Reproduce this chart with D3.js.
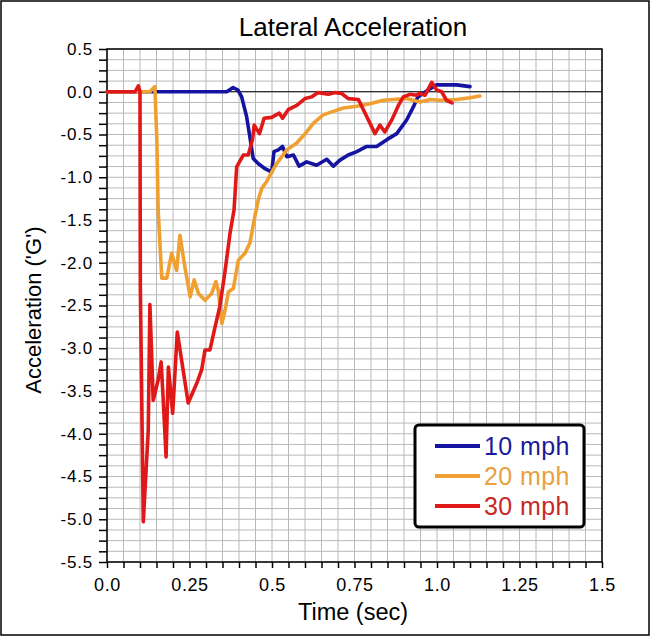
<!DOCTYPE html>
<html><head><meta charset="utf-8">
<script src="https://cdn.jsdelivr.net/npm/d3@7"></script>
<style>body{margin:0;background:#fff}svg{display:block;font-family:"Liberation Sans",Arial,sans-serif}</style>
</head><body>
<svg id="c" width="650" height="637"></svg>
<script>
const seriesNames = ["10 mph","20 mph","30 mph"];
const seriesColors = ["#1414a0","#f0a030","#e01818"];
const legendColors = ["#1a1a9a","#e8a040","#c82828"];
const xTicks = [0,0.25,0.5,0.75,1.0,1.25,1.5];
const xTickLabels = ["0.0","0.25","0.5","0.75","1.0","1.25","1.5"];
const yTicks = [0.5,0,-0.5,-1,-1.5,-2,-2.5,-3,-3.5,-4,-4.5,-5,-5.5];
const yTickLabels = ["0.5","0.0","-0.5","-1.0","-1.5","-2.0","-2.5","-3.0","-3.5","-4.0","-4.5","-5.0","-5.5"];

const t10 = [0,0.363,0.382,0.397,0.408,0.423,0.433,0.443,0.458,0.479,0.499,0.506,0.519,0.532,0.545,0.565,0.582,0.605,0.635,0.666,0.686,0.706,0.731,0.757,0.787,0.817,0.848,0.878,0.908,0.928,0.942,0.973,0.999,1.06,1.10];
const g10 = [0,0,0.05,0.02,-0.06,-0.29,-0.53,-0.78,-0.84,-0.90,-0.94,-0.70,-0.68,-0.64,-0.76,-0.74,-0.87,-0.82,-0.86,-0.79,-0.87,-0.80,-0.74,-0.70,-0.64,-0.64,-0.56,-0.49,-0.33,-0.18,-0.06,0.02,0.08,0.08,0.06];

const t20 = [0,0.13,0.145,0.151,0.155,0.166,0.181,0.196,0.211,0.221,0.236,0.252,0.264,0.277,0.297,0.317,0.330,0.337,0.348,0.358,0.368,0.383,0.398,0.418,0.433,0.448,0.458,0.469,0.484,0.499,0.514,0.545,0.575,0.605,0.625,0.655,0.686,0.716,0.757,0.797,0.837,0.868,0.908,0.948,0.979,1.009,1.06,1.10,1.13];
const g20 = [0,0,0.06,-0.56,-1.38,-2.18,-2.18,-1.89,-2.09,-1.68,-2.05,-2.40,-2.20,-2.36,-2.44,-2.36,-2.22,-2.32,-2.71,-2.55,-2.34,-2.30,-1.97,-1.89,-1.77,-1.46,-1.27,-1.13,-1.05,-0.94,-0.84,-0.68,-0.60,-0.47,-0.37,-0.27,-0.23,-0.19,-0.17,-0.14,-0.10,-0.09,-0.08,-0.12,-0.09,-0.10,-0.09,-0.07,-0.05];

const t30 = [0,0.085,0.095,0.100,0.101,0.110,0.125,0.130,0.140,0.155,0.164,0.170,0.179,0.186,0.199,0.213,0.246,0.272,0.287,0.297,0.312,0.327,0.342,0.358,0.373,0.385,0.393,0.413,0.428,0.441,0.446,0.462,0.476,0.499,0.522,0.532,0.549,0.575,0.600,0.620,0.640,0.671,0.691,0.711,0.731,0.762,0.777,0.797,0.812,0.827,0.842,0.863,0.883,0.898,0.918,0.938,0.948,0.964,0.984,0.999,1.014,1.029,1.045];
const g30 = [0,0,0.07,0,-2.28,-5.03,-3.96,-2.49,-3.61,-3.37,-3.16,-3.57,-4.27,-3.22,-3.76,-2.81,-3.64,-3.41,-3.25,-3.02,-3.02,-2.76,-2.51,-2.09,-1.65,-1.38,-0.88,-0.74,-0.74,-0.56,-0.39,-0.49,-0.31,-0.30,-0.25,-0.31,-0.21,-0.16,-0.08,-0.06,-0.01,-0.03,-0.01,-0.02,-0.08,-0.09,-0.21,-0.37,-0.49,-0.39,-0.47,-0.33,-0.16,-0.06,-0.03,-0.04,-0.02,-0.04,0.11,0.02,0,-0.10,-0.13];

const series = [[t10,g10],[t20,g20],[t30,g30]].map(([t,g],i)=>({name:seriesNames[i],color:seriesColors[i],pts:t.map((v,j)=>[v,g[j]])}));

const svg = d3.select("#c");
const L=107,R=602,T=49,B=562;
const x = d3.scaleLinear().domain([0,1.5]).range([L,R]);
const y = d3.scaleLinear().domain([-5.5,0.5]).range([B,T]);

svg.append("rect").attr("x",1).attr("y",1).attr("width",648).attr("height",634).attr("fill","#fff").attr("stroke","#000").attr("stroke-width",1.5);

// grid
const g = svg.append("g");
const xMinor = d3.range(0,31).map(i=>i*0.05);
const yMinor = d3.range(0,49).map(i=>0.5-i*0.125);
g.selectAll(".vx").data(xMinor).join("line").attr("x1",d=>x(d)).attr("x2",d=>x(d)).attr("y1",T).attr("y2",B).attr("stroke","#b8b8b8").attr("stroke-width",1);
g.selectAll(".hy").data(yMinor).join("line").attr("y1",d=>y(d)).attr("y2",d=>y(d)).attr("x1",L).attr("x2",R).attr("stroke","#b8b8b8").attr("stroke-width",1);
// zero line
svg.append("line").attr("x1",L).attr("x2",R).attr("y1",y(0)).attr("y2",y(0)).attr("stroke","#000").attr("stroke-width",1.2);
// frame
svg.append("rect").attr("x",L).attr("y",T).attr("width",R-L).attr("height",B-T).attr("fill","none").attr("stroke","#000").attr("stroke-width",1.5);

// axes
const xAxis = d3.axisBottom(x).tickValues(xMinor).tickSize(6).tickFormat(d=>{const k=xTicks.findIndex(v=>Math.abs(v-d)<1e-6);return k>=0?xTickLabels[k]:"";});
const ax = svg.append("g").attr("transform",`translate(0,${B})`).call(xAxis);
ax.select(".domain").remove();
ax.selectAll("line").attr("stroke","#000").attr("stroke-width",1.5);
ax.selectAll("text").attr("font-size",18).attr("fill","#000").attr("y",16).attr("dy","0.71em").attr("letter-spacing",0.6).attr("font-family","Liberation Sans, Arial, sans-serif");

const yAxis = d3.axisLeft(y).tickValues(yMinor).tickSize(8).tickFormat(d=>{const k=yTicks.findIndex(v=>Math.abs(v-d)<1e-6);return k>=0?yTickLabels[k]:"";});
const ay = svg.append("g").attr("transform",`translate(${L},0)`).call(yAxis);
ay.select(".domain").remove();
ay.selectAll("line").attr("stroke","#000").attr("stroke-width",1.5);
ay.selectAll("text").attr("font-size",17).attr("fill","#000").attr("x",-14).attr("letter-spacing",0.8).attr("font-family","Liberation Sans, Arial, sans-serif");

// lines
const line = d3.line().x(d=>x(d[0])).y(d=>y(d[1]));
svg.append("g").selectAll("path").data(series).join("path")
  .attr("d",d=>line(d.pts)).attr("fill","none").attr("stroke",d=>d.color)
  .attr("stroke-width",3.6).attr("stroke-linejoin","round").attr("stroke-linecap","round");

// titles
svg.append("text").attr("x",353).attr("y",36).attr("text-anchor","middle").attr("font-size",26).text("Lateral Acceleration");
svg.append("text").attr("x",353).attr("y",620).attr("text-anchor","middle").attr("font-size",23.5).text("Time (sec)");
svg.append("text").attr("transform","translate(41,310) rotate(-90)").attr("text-anchor","middle").attr("font-size",22).text("Acceleration ('G')");

// legend
const lg = svg.append("g");
lg.append("rect").attr("x",415).attr("y",425).attr("width",169).attr("height",102).attr("rx",4).attr("fill","#fff").attr("stroke","#000").attr("stroke-width",3);
series.forEach((s,i)=>{
  const yy = 446+i*30;
  lg.append("line").attr("x1",435).attr("x2",480).attr("y1",yy).attr("y2",yy).attr("stroke",s.color).attr("stroke-width",3.8);
  lg.append("text").attr("x",484).attr("y",yy+9).attr("font-size",25).attr("letter-spacing",0.4).attr("fill",legendColors[i]).text(s.name);
});
</script>
</body></html>
